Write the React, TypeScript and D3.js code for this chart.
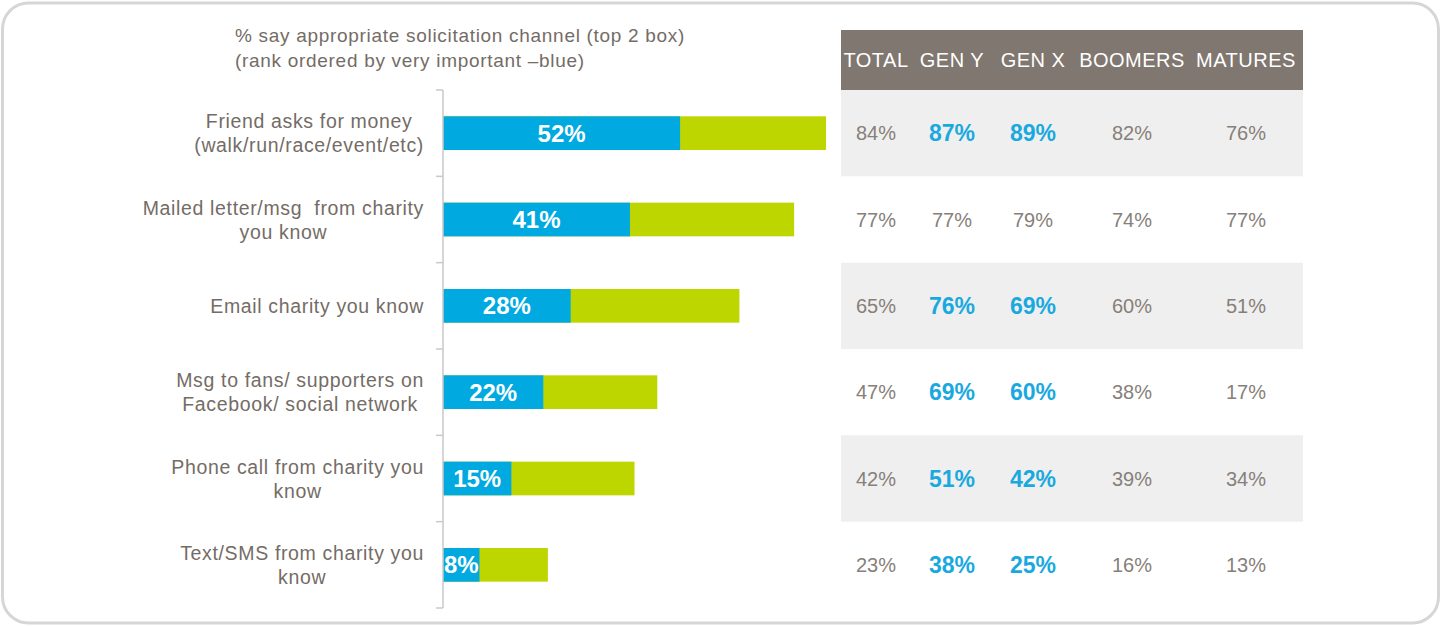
import React, { useEffect, useRef } from 'react'
import * as d3 from 'd3'

const titleLines = [
  '% say appropriate solicitation channel (top 2 box)',
  '(rank ordered by very important \u2013blue)',
]
const categories = [
  'Friend asks for money\n(walk/run/race/event/etc)',
  'Mailed letter/msg  from charity\nyou know',
  'Email charity you know',
  'Msg to fans/ supporters on\nFacebook/ social network',
  'Phone call from charity you\nknow',
  'Text/SMS from charity you\nknow',
]
// blue = very important, bar end = top 2 box (same as TOTAL column)
const veryImportant = [52, 41, 28, 22, 15, 8]
const topTwoBox = [84, 77, 65, 47, 42, 23]

const columns = ['TOTAL', 'GEN Y', 'GEN X', 'BOOMERS', 'MATURES']
const genY = [87, 77, 76, 69, 51, 38]
const genX = [89, 79, 69, 60, 42, 25]
const boomers = [82, 74, 60, 38, 39, 16]
const matures = [76, 77, 51, 17, 34, 13]
const genHighlight = [true, false, true, true, true, true]

const W = 1441
const H = 626
const FONT = '"Liberation Sans", Arial, sans-serif'
const BLUE = '#00a9e0'
const GREEN = '#bed600'
const LABEL = '#746c66'
const VALUE = '#867f7a'

function App() {
  const svgRef = useRef(null)

  useEffect(() => {
    const svg = d3.select(svgRef.current)
    svg.selectAll('*').remove()

    const axisX = 443
    const x = d3.scaleLinear().domain([0, 100]).range([axisX, axisX + 456])
    const y = d3.scaleBand().domain(categories).range([90, 608])
    const barH = y.bandwidth() * 0.39

    // outer rounded frame
    svg.append('rect')
      .attr('x', 2.5).attr('y', 3).attr('width', W - 5).attr('height', H - 6)
      .attr('rx', 26).attr('fill', 'none')
      .attr('stroke', '#d6d6d6').attr('stroke-width', 3)

    // title
    svg.append('g').selectAll('text').data(titleLines).join('text')
      .attr('x', 235).attr('y', (d, i) => 42 + i * 25)
      .attr('font-family', FONT).attr('font-size', 19).attr('fill', LABEL)
      .attr('letter-spacing', 0.7)
      .text(d => d)

    // table background
    const tableX0 = 841
    const tableX1 = 1303
    svg.append('rect')
      .attr('x', tableX0).attr('y', 30).attr('width', tableX1 - tableX0).attr('height', 60)
      .attr('fill', '#807770')
    svg.append('g').selectAll('rect').data(categories.filter((d, i) => i % 2 === 0)).join('rect')
      .attr('x', tableX0).attr('y', d => y(d)).attr('width', tableX1 - tableX0)
      .attr('height', y.bandwidth()).attr('fill', '#efefef')

    const colX = d3.scaleOrdinal().domain(columns).range([876, 952, 1033, 1132, 1246])
    svg.append('g').selectAll('text').data(columns).join('text')
      .attr('x', d => colX(d)).attr('y', 67)
      .attr('text-anchor', 'middle')
      .attr('font-family', FONT).attr('font-size', 20).attr('fill', '#fff')
      .attr('letter-spacing', 0.5)
      .text(d => d)

    const series = [topTwoBox, genY, genX, boomers, matures]
    const cells = []
    categories.forEach((c, r) => {
      series.forEach((s, ci) => {
        const hi = genHighlight[r] && (ci === 1 || ci === 2)
        cells.push({ c, col: columns[ci], v: s[r], hi })
      })
    })
    svg.append('g').selectAll('text').data(cells).join('text')
      .attr('x', d => colX(d.col))
      .attr('y', d => y(d.c) + y.bandwidth() / 2)
      .attr('dy', '0.36em')
      .attr('text-anchor', 'middle')
      .attr('font-family', FONT)
      .attr('font-size', d => d.hi ? 23 : 20)
      .attr('font-weight', d => d.hi ? 'bold' : 'normal')
      .attr('fill', d => d.hi ? '#1aa9df' : VALUE)
      .text(d => d.v + '%')

    // bars
    const bars = svg.append('g')
    bars.selectAll('rect.green').data(categories).join('rect')
      .attr('class', 'green')
      .attr('x', x(0)).attr('y', d => y(d) + (y.bandwidth() - barH) / 2)
      .attr('width', (d, i) => x(topTwoBox[i]) - x(0)).attr('height', barH)
      .attr('fill', GREEN)
    bars.selectAll('rect.blue').data(categories).join('rect')
      .attr('class', 'blue')
      .attr('x', x(0)).attr('y', d => y(d) + (y.bandwidth() - barH) / 2)
      .attr('width', (d, i) => x(veryImportant[i]) - x(0)).attr('height', barH)
      .attr('fill', BLUE)
    bars.selectAll('text').data(categories).join('text')
      .attr('x', (d, i) => (x(0) + x(veryImportant[i])) / 2)
      .attr('y', d => y(d) + y.bandwidth() / 2)
      .attr('dy', '0.36em')
      .attr('text-anchor', 'middle')
      .attr('font-family', FONT).attr('font-size', 24).attr('font-weight', 'bold')
      .attr('fill', '#fff')
      .text((d, i) => veryImportant[i] + '%')

    // category axis
    const axis = svg.append('g')
    axis.append('line')
      .attr('x1', axisX).attr('x2', axisX).attr('y1', 90).attr('y2', 608)
      .attr('stroke', '#c9c9c9').attr('stroke-width', 1.5)
    const ticks = categories.map(d => y(d)).concat([608])
    axis.selectAll('line.tick').data(ticks).join('line')
      .attr('class', 'tick')
      .attr('x1', axisX - 7).attr('x2', axisX).attr('y1', d => d).attr('y2', d => d)
      .attr('stroke', '#c9c9c9').attr('stroke-width', 1.5)

    // category labels: lines centred, block right aligned
    const labelRight = 424
    categories.forEach(c => {
      const lines = c.split('\n')
      const g = svg.append('g')
      const texts = g.selectAll('text').data(lines).join('text')
        .attr('font-family', FONT).attr('font-size', 19.5).attr('fill', LABEL)
        .attr('letter-spacing', 0.65)
        .style('white-space', 'pre')
        .attr('text-anchor', 'middle')
        .attr('y', (d, i) => y(c) + y.bandwidth() / 2 + (i - (lines.length - 1) / 2) * 24)
        .attr('dy', '0.36em')
        .text(d => d)
      let maxW = 0
      texts.each(function () { maxW = Math.max(maxW, this.getComputedTextLength()) })
      texts.attr('x', labelRight - maxW / 2)
    })
  }, [])

  return (
    <svg ref={svgRef} width={W} height={H}
      style={{ position: 'absolute', left: 0, top: 0, background: '#fff' }} />
  )
}

export default App
